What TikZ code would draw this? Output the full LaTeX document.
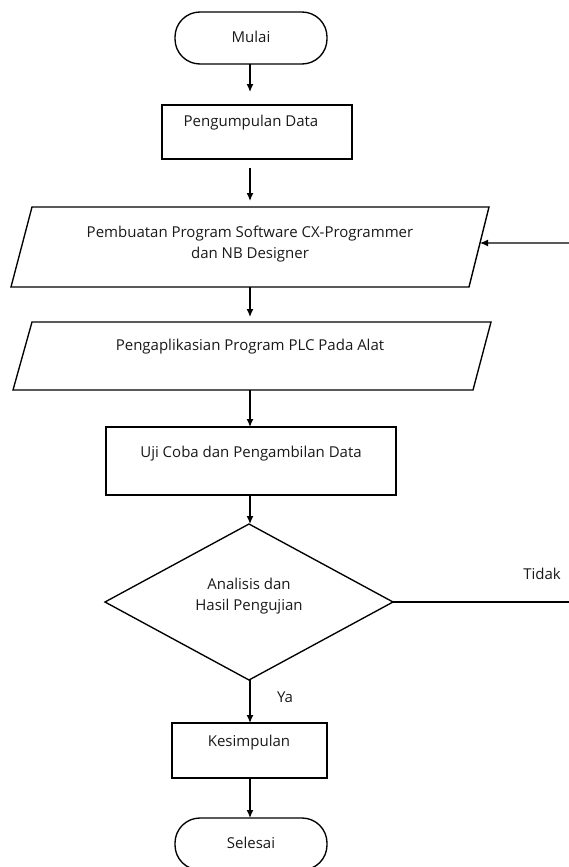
\documentclass[tikz,border=0pt]{standalone}
\usepackage{fontspec}
\setmainfont{Open Sans}
\usetikzlibrary{shapes.geometric,arrows.meta,calc}
\begin{document}
\begin{tikzpicture}[x=1pt,y=-1pt,
  every node/.style={inner sep=0pt, outer sep=0pt},
  txt/.style={font=\fontsize{15}{21.5}\selectfont, text=black!90, align=center},
  ln/.style={line width=1.35pt, black},
  term/.style={ln, draw, rectangle, rounded corners=25pt, minimum width=152pt, minimum height=52pt},
  procbox/.style={ln, draw, rectangle},
  decbox/.style={ln, draw, diamond, minimum width=288pt, minimum height=156pt},
  arr/.style={ln, -{Latex[length=8pt,width=7pt]}}
]
\useasboundingbox (0,0) rectangle (569,867);

% shapes
\node[term] (start) at (251,38) {};
\node[txt] (tstart) at (251,37) {Mulai};

\node[procbox, minimum width=190pt, minimum height=54pt] (collect) at (257,132) {};
\node[txt] (tcollect) at (251,123) {Pengumpulan Data};

\coordinate (p1a) at (32,207);
\coordinate (p1b) at (489,207);
\coordinate (p1c) at (469,287);
\coordinate (p1d) at (11,287);
\draw[ln] (p1a) -- (p1b) -- (p1c) -- (p1d) -- cycle;
\node[minimum width=458pt, minimum height=80pt] (par1) at (250,247) {};
\node[txt] (tpar1) at (250,244) {Pembuatan Program Software CX-Programmer\\dan NB Designer};

\coordinate (p2a) at (32,322);
\coordinate (p2b) at (491,322);
\coordinate (p2c) at (473,390);
\coordinate (p2d) at (13,390);
\draw[ln] (p2a) -- (p2b) -- (p2c) -- (p2d) -- cycle;
\node[minimum width=460pt, minimum height=68pt] (par2) at (250,356) {};
\node[txt] (tpar2) at (250,347) {Pengaplikasian Program PLC Pada Alat};

\node[procbox, minimum width=290pt, minimum height=68pt] (uji) at (251,461) {};
\node[txt] (tuji) at (251,454) {Uji Coba dan Pengambilan Data};

\node[decbox] (dec) at (249,602) {};
\node[txt] (tdec) at (249,596) {Analisis dan\\Hasil Pengujian};

\node[procbox, minimum width=155pt, minimum height=55pt] (kes) at (249.5,750.5) {};
\node[txt] (tkes) at (249,743) {Kesimpulan};

\node[term] (stop) at (251,844) {};
\node[txt] (tstop) at (251,843) {Selesai};

% labels
\node[txt] (lya) at (285,697) {Ya};
\node[txt] (ltidak) at (542,574) {Tidak};

% connectors
\coordinate (ax) at (250,0);
\draw[arr, shorten >=13pt] (start.south -| ax) -- (collect.north -| ax);
\draw[arr, shorten <=9pt, shorten >=6pt] (collect.south -| ax) -- (par1.north -| ax);
\draw[arr, shorten >=5pt] (par1.south -| ax) -- (par2.north -| ax);
\draw[arr] (par2.south -| ax) -- (uji.north -| ax);
\draw[arr] (uji.south -| ax) -- (dec.north -| ax);
\draw[arr] (dec.south -| ax) -- (kes.north -| ax);
\draw[arr] (kes.south -| ax) -- (stop.north -| ax);

\coordinate (tidakend) at (569,602);
\draw[ln] (dec.east) -- (tidakend);
\coordinate (fbstart) at (569,243);
\coordinate (fbend) at ($(p1b)!0.45!(p1c)$);
\draw[arr] (fbstart) -- (fbend);
\end{tikzpicture}
\end{document}
